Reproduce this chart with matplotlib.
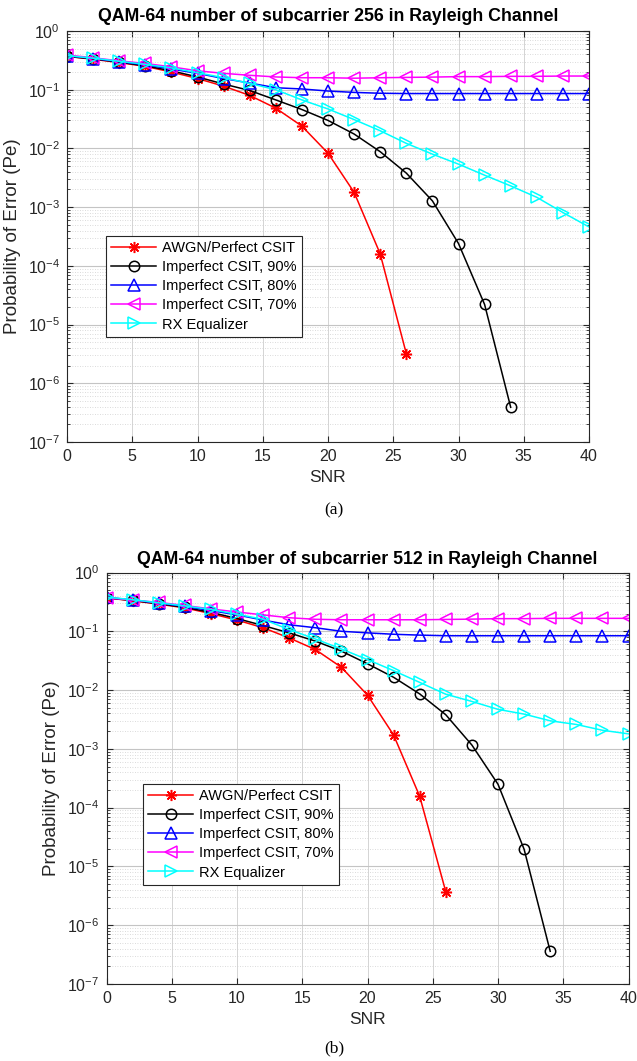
import numpy as np
import matplotlib
matplotlib.use("Agg")
import matplotlib.pyplot as plt
from matplotlib.ticker import LogLocator, NullFormatter

plt.rcParams['font.family'] = ['Liberation Sans', 'DejaVu Sans']

snr = [0, 2, 4, 6, 8, 10, 12, 14, 16, 18, 20, 22, 24, 26, 28, 30, 32, 34, 36, 38, 40]

# ---- (a) 256 subcarriers ----
a_awgn = [0.37, 0.33, 0.29, 0.25, 0.20, 0.155, 0.115, 0.080, 0.0485, 0.024, 0.0083, 1.79e-3, 1.6e-4, 3.2e-6]
a_90 = [0.37, 0.335, 0.295, 0.255, 0.21, 0.165, 0.125, 0.097, 0.067, 0.046, 0.030, 0.0176, 0.0088, 0.0038,
        1.28e-3, 2.4e-4, 2.2e-5, 3.9e-7]
a_80 = [0.38, 0.34, 0.30, 0.265, 0.225, 0.19, 0.155, 0.13, 0.108, 0.103, 0.095, 0.090, 0.087, 0.086,
        0.086, 0.086, 0.086, 0.086, 0.086, 0.086, 0.086]
a_70 = [0.39, 0.35, 0.31, 0.28, 0.245, 0.21, 0.19, 0.176, 0.165, 0.160, 0.160, 0.157, 0.160, 0.162,
        0.164, 0.167, 0.167, 0.169, 0.169, 0.171, 0.171]
a_rx = [0.38, 0.345, 0.305, 0.27, 0.235, 0.195, 0.16, 0.128, 0.10, 0.067, 0.047, 0.031, 0.020, 0.0122,
        0.0080, 0.0054, 0.0035, 0.0023, 1.47e-3, 8.1e-4, 4.6e-4]

# ---- (b) 512 subcarriers ----
b_awgn = [0.37, 0.33, 0.29, 0.25, 0.20, 0.155, 0.115, 0.077, 0.049, 0.0244, 0.0082, 1.72e-3, 1.56e-4, 3.7e-6]
b_90 = [0.37, 0.335, 0.295, 0.255, 0.21, 0.165, 0.125, 0.094, 0.068, 0.046, 0.028, 0.0165, 0.0086, 0.0038,
        1.16e-3, 2.5e-4, 1.96e-5, 3.6e-7]
b_80 = [0.38, 0.34, 0.30, 0.265, 0.225, 0.19, 0.155, 0.129, 0.115, 0.100, 0.094, 0.089, 0.086, 0.084,
        0.084, 0.084, 0.084, 0.084, 0.084, 0.084, 0.084]
b_70 = [0.37, 0.34, 0.31, 0.275, 0.24, 0.213, 0.19, 0.17, 0.16, 0.157, 0.157, 0.157, 0.157, 0.159,
        0.161, 0.164, 0.164, 0.166, 0.166, 0.166, 0.166]
b_rx = [0.38, 0.345, 0.305, 0.27, 0.235, 0.195, 0.16, 0.107, 0.074, 0.050, 0.033, 0.0214, 0.0135, 0.0085,
        0.0064, 0.0047, 0.0039, 0.0030, 0.0026, 2.07e-3, 1.8e-3]

labels = ['AWGN/Perfect CSIT', 'Imperfect CSIT, 90%', 'Imperfect CSIT, 80%',
          'Imperfect CSIT, 70%', 'RX Equalizer']
titles = ['QAM-64 number of subcarrier 256 in Rayleigh Channel',
          'QAM-64 number of subcarrier 512 in Rayleigh Channel']
captions = ['(a)', '(b)']
xticks = [0, 5, 10, 15, 20, 25, 30, 35, 40]

styles = [dict(color='red', marker=(8, 2, 0), mfc='red', ms=8),
          dict(color='black', marker='o', mfc='none', ms=7.5),
          dict(color='blue', marker='^', mfc='none', ms=8),
          dict(color='magenta', marker='<', mfc='none', ms=8),
          dict(color='cyan', marker='>', mfc='none', ms=8)]

W, H = 637, 1061
fig = plt.figure(figsize=(W / 100, H / 100), dpi=100)
# axes boxes in pixels: left, top, right, bottom
boxes = [(67, 31, 589, 442), (106.5, 572.5, 628.5, 984)]
legend_pos = [(106, 236), (143, 784)]
caption_xy = [(334, 510), (334, 1048)]
datasets = [[a_awgn, a_90, a_80, a_70, a_rx], [b_awgn, b_90, b_80, b_70, b_rx]]
ink = '#262626'

for k in range(2):
    l, t, r, b = boxes[k]
    ax = fig.add_axes([l / W, 1 - b / H, (r - l) / W, (b - t) / H])
    for series, st, lab in zip(datasets[k], styles, labels):
        n = len(series)
        ax.semilogy(snr[:n], series, linestyle='-', lw=1.1, ms=st['ms'], mew=1.1,
                    color=st['color'], marker=st['marker'], mfc=st['mfc'],
                    mec=st['color'], label=lab)
    ax.set_xlim(0, 40)
    ax.set_ylim(1e-7, 1)
    ax.set_xticks(xticks)
    ax.yaxis.set_major_locator(LogLocator(base=10, numticks=20))
    ax.yaxis.set_minor_locator(LogLocator(base=10, subs=np.arange(2, 10), numticks=20))
    ax.yaxis.set_minor_formatter(NullFormatter())
    ax.grid(True, which='major', axis='x', color='#d4d4d4', lw=0.7, ls='-')
    ax.grid(True, which='major', axis='y', color='#c4c4c4', lw=0.8, ls='-')
    ax.grid(True, which='minor', axis='y', color='#cfcfcf', lw=0.6, ls=(0, (1, 2)))
    ax.set_axisbelow(True)
    ax.tick_params(which='both', direction='in', top=True, right=True, labelsize=11.5,
                   colors=ink, pad=5)
    ax.tick_params(which='major', length=4)
    ax.tick_params(which='minor', length=2.5)
    for sp in ax.spines.values():
        sp.set_color(ink)
        sp.set_linewidth(0.8)
    ax.set_title(titles[k], fontsize=12.8, fontweight='bold', pad=7 if k == 0 else 6)
    ax.set_xlabel('SNR', fontsize=12.5, color=ink, labelpad=4)
    ax.set_ylabel('Probability of Error (Pe)', fontsize=13.5, color=ink, labelpad=5)
    lx, ly = legend_pos[k]
    leg = ax.legend(loc='upper left', bbox_to_anchor=(lx / W, 1 - ly / H),
                    bbox_transform=fig.transFigure,
                    fontsize=10.5, handlelength=3.1, handletextpad=0.4, borderpad=0.35,
                    labelspacing=0.35, fancybox=False, framealpha=1, edgecolor=ink,
                    borderaxespad=0)
    leg.get_frame().set_linewidth(0.8)
    cx, cy = caption_xy[k]
    fig.text(cx / W, 1 - cy / H, captions[k], fontsize=12.5, family='Liberation Serif',
             ha='center', va='center')

fig.savefig('out.png', dpi=100)
